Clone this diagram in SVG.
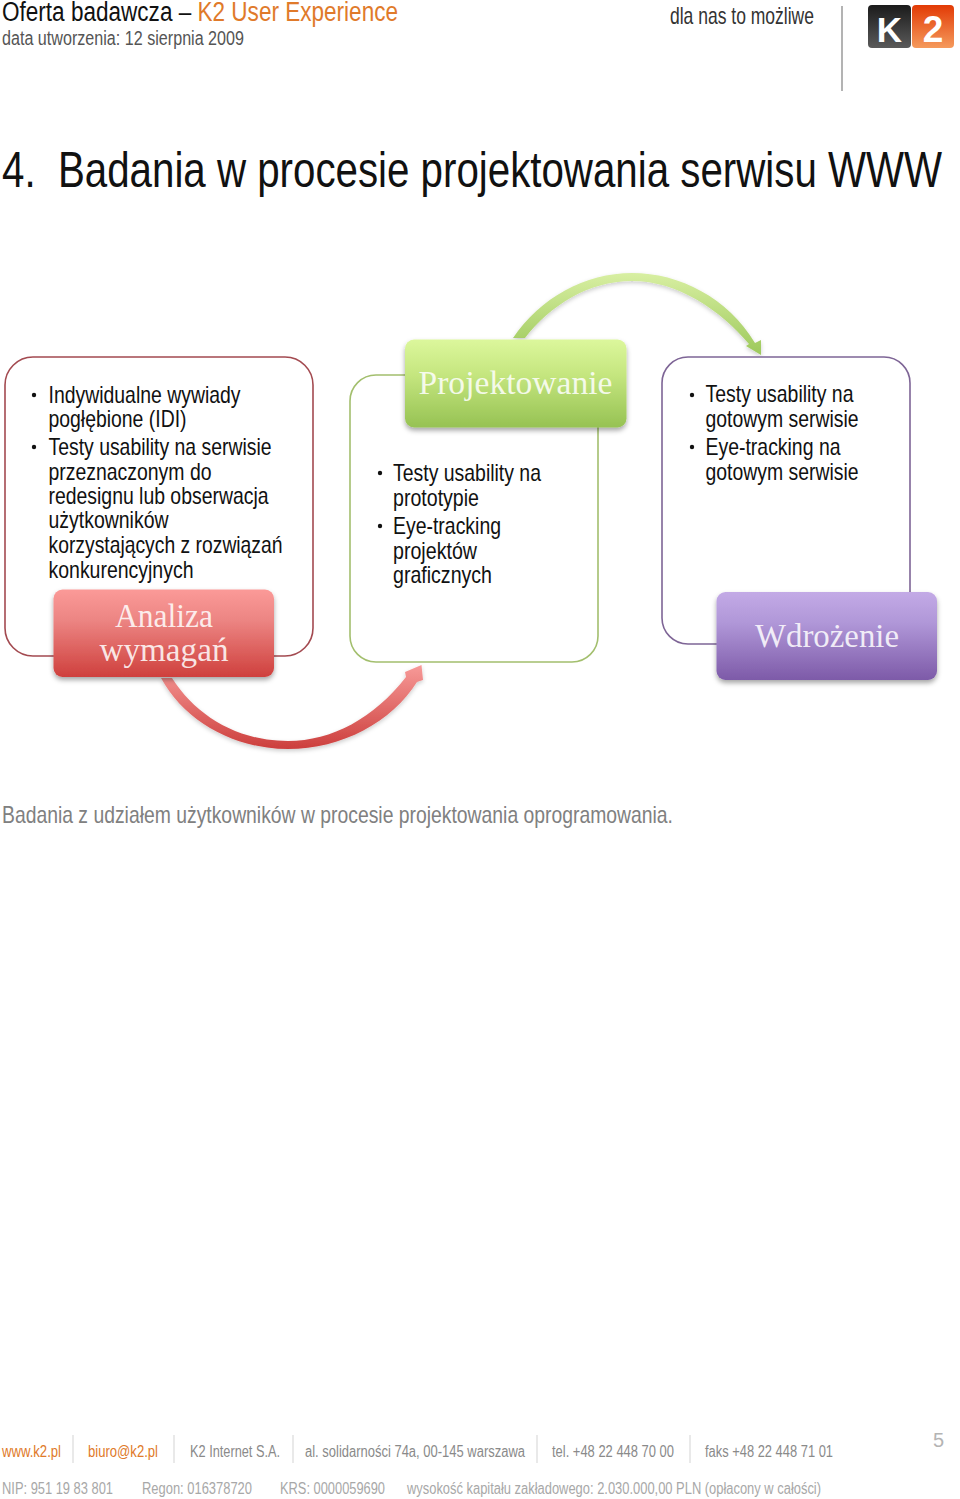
<svg xmlns="http://www.w3.org/2000/svg" width="960" height="1499" viewBox="0 0 960 1499">
<style>
text{font-family:"Liberation Sans",Arial,sans-serif}
.b{font-size:24px;fill:#111}
.h{font-family:"Liberation Serif","DejaVu Serif",serif;font-size:34px;fill:#fff;fill-opacity:.85;text-anchor:middle}
.f1{font-size:16px;fill:#8a8a8a}
.f2{font-size:16px;fill:#a8a8a8}
.o{fill:#e07a2a}
.sep{stroke:#dedede;stroke-width:1.3}
.panel{fill:#fff;stroke-width:1.6}
</style>
<defs>
<linearGradient id="r" x1="0" y1="0" x2="0" y2="1"><stop offset="0" stop-color="#fb9a98"/><stop offset=".35" stop-color="#ec8583"/><stop offset="1" stop-color="#cf403d"/></linearGradient>
<linearGradient id="g" x1="0" y1="0" x2="0" y2="1"><stop offset="0" stop-color="#dcf79c"/><stop offset=".4" stop-color="#c5e67f"/><stop offset="1" stop-color="#96c253"/></linearGradient>
<linearGradient id="p" x1="0" y1="0" x2="0" y2="1"><stop offset="0" stop-color="#c3aae6"/><stop offset=".35" stop-color="#b097d8"/><stop offset="1" stop-color="#7d5aa8"/></linearGradient>
<linearGradient id="ra" gradientUnits="userSpaceOnUse" x1="290" y1="665" x2="290" y2="750"><stop offset="0" stop-color="#f79a98"/><stop offset="1" stop-color="#cc3e3c"/></linearGradient>
<linearGradient id="ga" gradientUnits="userSpaceOnUse" x1="640" y1="273" x2="640" y2="356"><stop offset="0" stop-color="#d8efa2"/><stop offset="1" stop-color="#9cc85a"/></linearGradient>
<linearGradient id="kk" x1="0" y1="0" x2="0" y2="1"><stop offset="0" stop-color="#1b1b1b"/><stop offset="1" stop-color="#5a5a5a"/></linearGradient>
<linearGradient id="k2" x1="0" y1="0" x2="0" y2="1"><stop offset="0" stop-color="#e23a05"/><stop offset="1" stop-color="#f59a5c"/></linearGradient>
<filter id="s" x="-10%" y="-10%" width="120%" height="130%"><feDropShadow dx="0" dy="3" stdDeviation="2.5" flood-color="#000" flood-opacity=".35"/></filter>
<filter id="s2" x="-10%" y="-10%" width="120%" height="130%"><feDropShadow dx="0" dy="2" stdDeviation="2" flood-color="#000" flood-opacity=".2"/></filter>
</defs>

<g id="header">
<text x="2" y="21" font-size="27" textLength="396" lengthAdjust="spacingAndGlyphs" fill="#111">Oferta badawcza – <tspan class="o">K2 User Experience</tspan></text>
<text x="2" y="45" font-size="20" textLength="242" lengthAdjust="spacingAndGlyphs" fill="#555">data utworzenia: 12 sierpnia 2009</text>
<text x="670" y="24" font-size="24" textLength="144" lengthAdjust="spacingAndGlyphs" fill="#333">dla nas to możliwe</text>
<line x1="842" y1="6" x2="842" y2="91" stroke="#8a8a8a" stroke-width="1.3"/>
</g>
<g id="logo">
<rect x="868" y="5" width="43" height="43" rx="4" fill="url(#kk)"/>
<rect x="912" y="5" width="42" height="43" rx="4" fill="url(#k2)"/>
<text x="889.500" y="42" font-size="35" font-weight="700" fill="#fff" text-anchor="middle">K</text>
<text x="933" y="42" font-size="37" font-weight="700" fill="#fff" text-anchor="middle">2</text>
</g>

<text id="title" x="2" y="187" font-size="50" textLength="940" lengthAdjust="spacingAndGlyphs" fill="#111" xml:space="preserve">4.  Badania w procesie projektowania serwisu WWW</text>

<g id="connectors">
<path filter="url(#s2)" fill="url(#ra)" d="M161,678 L172,678 C196,716 238,741 288,741 C332,741 374,718 406,677 L405,672 L421.500,665 L423,680 L417,682 C392,722 342,749 288,749 C235,749 185,722 161,678Z"/>
<path filter="url(#s2)" fill="url(#ga)" d="M513,338 C540,298 585,273 632,273 C680,273 728,298 755,343 L761,340 L761,355 L746,346 L749,344 C720,310 678,281 632,281 C588,281 550,306 525,338Z"/>
</g>

<g id="analiza">
<rect class="panel" x="5" y="357" width="308" height="299" rx="28" stroke="#a34a50"/>
<g class="b">
<circle cx="34" cy="395" r="2.200" fill="#111"/><circle cx="34" cy="447" r="2.200" fill="#111"/>
<text x="48.500" y="403" textLength="192" lengthAdjust="spacingAndGlyphs">Indywidualne wywiady</text>
<text x="48.500" y="427" textLength="138" lengthAdjust="spacingAndGlyphs">pogłębione (IDI)</text>
<text x="48.500" y="455" textLength="223" lengthAdjust="spacingAndGlyphs">Testy usability na serwisie</text>
<text x="48.500" y="480" textLength="163" lengthAdjust="spacingAndGlyphs">przeznaczonym do</text>
<text x="48.500" y="504" textLength="220" lengthAdjust="spacingAndGlyphs">redesignu lub obserwacja</text>
<text x="48.500" y="528" textLength="120" lengthAdjust="spacingAndGlyphs">użytkowników</text>
<text x="48.500" y="553" textLength="234" lengthAdjust="spacingAndGlyphs">korzystających z rozwiązań</text>
<text x="48.500" y="578" textLength="145" lengthAdjust="spacingAndGlyphs">konkurencyjnych</text>
</g>
<rect x="53.500" y="589.500" width="220.500" height="87.500" rx="9" fill="url(#r)" filter="url(#s)"/>
<text class="h" x="164" y="627" textLength="98" lengthAdjust="spacingAndGlyphs">Analiza</text>
<text class="h" x="164" y="661" textLength="129" lengthAdjust="spacingAndGlyphs">wymagań</text>
</g>

<g id="projektowanie">
<rect class="panel" x="350" y="375" width="248" height="287" rx="26" stroke="#a3bf6e"/>
<g class="b">
<circle cx="380" cy="473" r="2.200" fill="#111"/><circle cx="380" cy="526" r="2.200" fill="#111"/>
<text x="393" y="481" textLength="148" lengthAdjust="spacingAndGlyphs">Testy usability na</text>
<text x="393" y="506" textLength="86" lengthAdjust="spacingAndGlyphs">prototypie</text>
<text x="393" y="534" textLength="108" lengthAdjust="spacingAndGlyphs">Eye-tracking</text>
<text x="393" y="559" textLength="84" lengthAdjust="spacingAndGlyphs">projektów</text>
<text x="393" y="583" textLength="99" lengthAdjust="spacingAndGlyphs">graficznych</text>
</g>
<rect x="405" y="339.500" width="221.500" height="88" rx="9" fill="url(#g)" filter="url(#s)"/>
<text class="h" x="515.500" y="394" textLength="194" lengthAdjust="spacingAndGlyphs">Projektowanie</text>
</g>

<g id="wdrozenie">
<rect class="panel" x="662" y="357" width="248" height="287" rx="26" stroke="#7e6596"/>
<g class="b">
<circle cx="692" cy="395" r="2.200" fill="#111"/><circle cx="692" cy="447" r="2.200" fill="#111"/>
<text x="705.500" y="402" textLength="148" lengthAdjust="spacingAndGlyphs">Testy usability na</text>
<text x="705.500" y="427" textLength="153" lengthAdjust="spacingAndGlyphs">gotowym serwisie</text>
<text x="705.500" y="455" textLength="135" lengthAdjust="spacingAndGlyphs">Eye-tracking na</text>
<text x="705.500" y="480" textLength="153" lengthAdjust="spacingAndGlyphs">gotowym serwisie</text>
</g>
<rect x="716.500" y="592" width="220.500" height="88" rx="9" fill="url(#p)" filter="url(#s)"/>
<text class="h" x="827" y="647" textLength="144" lengthAdjust="spacingAndGlyphs">Wdrożenie</text>
</g>

<text id="caption" x="2" y="823" font-size="24" textLength="671" lengthAdjust="spacingAndGlyphs" fill="#808080">Badania z udziałem użytkowników w procesie projektowania oprogramowania.</text>

<g id="footer">
<line class="sep" x1="73" y1="1435" x2="73" y2="1463"/>
<line class="sep" x1="174" y1="1435" x2="174" y2="1463"/>
<line class="sep" x1="293" y1="1435" x2="293" y2="1463"/>
<line class="sep" x1="537" y1="1435" x2="537" y2="1463"/>
<line class="sep" x1="690" y1="1435" x2="690" y2="1463"/>
<text class="f1" style="fill:#e07a2a" x="2" y="1457" textLength="59" lengthAdjust="spacingAndGlyphs">www.k2.pl</text>
<text class="f1" style="fill:#e07a2a" x="88" y="1457" textLength="70" lengthAdjust="spacingAndGlyphs">biuro@k2.pl</text>
<text class="f1" x="190" y="1457" textLength="90" lengthAdjust="spacingAndGlyphs">K2 Internet S.A.</text>
<text class="f1" x="305" y="1457" textLength="220" lengthAdjust="spacingAndGlyphs">al. solidarności 74a, 00-145 warszawa</text>
<text class="f1" x="552" y="1457" textLength="122" lengthAdjust="spacingAndGlyphs">tel. +48 22 448 70 00</text>
<text class="f1" x="705" y="1457" textLength="128" lengthAdjust="spacingAndGlyphs">faks +48 22 448 71 01</text>
<text class="f2" x="2" y="1494" textLength="111" lengthAdjust="spacingAndGlyphs">NIP: 951 19 83 801</text>
<text class="f2" x="142" y="1494" textLength="110" lengthAdjust="spacingAndGlyphs">Regon: 016378720</text>
<text class="f2" x="280" y="1494" textLength="105" lengthAdjust="spacingAndGlyphs">KRS: 0000059690</text>
<text class="f2" x="407" y="1494" textLength="414" lengthAdjust="spacingAndGlyphs">wysokość kapitału zakładowego: 2.030.000,00 PLN (opłacony w całości)</text>
<text x="933" y="1447" font-size="20" fill="#b4b4b4">5</text>
</g>
</svg>
